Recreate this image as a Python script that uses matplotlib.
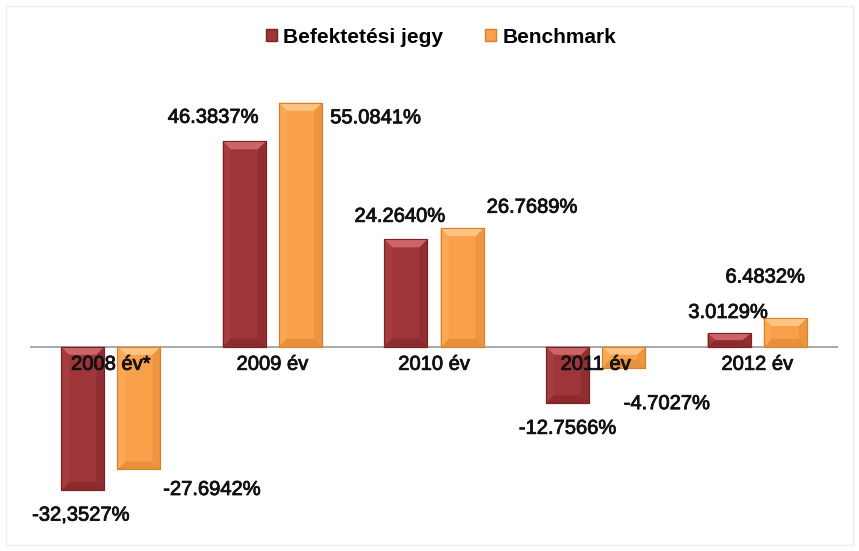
import matplotlib
matplotlib.use("Agg")
import matplotlib.pyplot as plt
from matplotlib.patches import Polygon, Rectangle
import matplotlib.patheffects as pe
import numpy as np

categories = ["2008 év*", "2009 év", "2010 év", "2011 év", "2012 év"]
series_names = ["Befektetési jegy", "Benchmark"]
befektetesi = [-32.3527, 46.3837, 24.2640, -12.7566, 3.0129]
benchmark = [-27.6942, 55.0841, 26.7689, -4.7027, 6.4832]
labels_bef = ["-32,3527%", "46.3837%", "24.2640%", "-12.7566%", "3.0129%"]
labels_ben = ["-27.6942%", "55.0841%", "26.7689%", "-4.7027%", "6.4832%"]

# label offsets in pixels (dx right, dy down) relative to bar end
off_bef = [(-2, 25), (-31, -24), (-6, -23), (0, 25), (-1, -21)]
off_ben = [(73, 20), (75, 15), (70, -21), (43, 36), (-20, -41)]

W, H = 859, 551
fig = plt.figure(figsize=(W / 100, H / 100), dpi=100)
fig.patch.set_facecolor("white")
ax = fig.add_axes([30 / W, 1 - 524 / H, 808 / W, (524 - 81) / H])
ax.set_xlim(-0.5, 4.5)
ax.set_ylim(-40, 60)
ax.axis("off")

x = np.arange(len(categories))
bw = 0.266
shift = 0.174
# main, top facet, edge/dark, side
cols = [("#9E3538", "#CD6466", "#7A2326", "#A53C3F"),
        ("#F9A04A", "#FDC482", "#D7812F", "#FAA853")]

bars1 = ax.bar(x - shift, befektetesi, bw, color=cols[0][0], edgecolor=cols[0][2], linewidth=0.8, zorder=2)
bars2 = ax.bar(x + shift, benchmark, bw, color=cols[1][0], edgecolor=cols[1][2], linewidth=0.8, zorder=2)

ax.axhline(0, color="#9a9a9a", lw=1.2, zorder=1)

# bevel decoration
fig.canvas.draw()
inv = ax.transData.inverted()
def px2data(dxp, dyp):
    p0 = inv.transform((0, 0))
    p1 = inv.transform((dxp, dyp))
    return p1[0] - p0[0], p1[1] - p0[1]
bx, by = px2data(8, 8)

def bevel(bar, c):
    x0 = bar.get_x(); w = bar.get_width()
    y0 = bar.get_y(); h = bar.get_height()
    x1 = x0 + w
    ylo, yhi = min(y0, y0 + h), max(y0, y0 + h)
    b = min(by, (yhi - ylo) / 2)
    bxx = min(bx, w / 2)
    # left facet
    ax.add_patch(Polygon([(x0, ylo), (x0, yhi), (x0 + bxx, yhi - b), (x0 + bxx, ylo + b)],
                         closed=True, fc=c[3], ec="none", zorder=3))
    # right facet
    ax.add_patch(Polygon([(x1, ylo), (x1, yhi), (x1 - bxx, yhi - b), (x1 - bxx, ylo + b)],
                         closed=True, fc=c[2], ec="none", zorder=3, alpha=0.35))
    # bottom facet
    ax.add_patch(Polygon([(x0, ylo), (x1, ylo), (x1 - bxx, ylo + b), (x0 + bxx, ylo + b)],
                         closed=True, fc=c[2], ec="none", zorder=3, alpha=0.5))
    # top facet
    ax.add_patch(Polygon([(x0, yhi), (x1, yhi), (x1 - bxx, yhi - b), (x0 + bxx, yhi - b)],
                         closed=True, fc=c[1], ec="none", zorder=3))
    ax.add_patch(Rectangle((x0, ylo), w, yhi - ylo, fc="none", ec=c[2], lw=0.8, zorder=4))

for b in bars1:
    bevel(b, cols[0])
for b in bars2:
    bevel(b, cols[1])

font = "Liberation Sans"
stroke = [pe.withStroke(linewidth=0.6, foreground="#111111")]
for i in range(len(categories)):
    ax.annotate(categories[i], (x[i], 0), xytext=(0, -8), textcoords="offset pixels",
                ha="center", va="top", fontsize=14.5, family=font, color="#111111",
                zorder=6, path_effects=stroke)
    for vals, labs, offs, sh in ((befektetesi, labels_bef, off_bef, -shift),
                                 (benchmark, labels_ben, off_ben, shift)):
        ax.annotate(labs[i], (x[i] + sh, vals[i]), xytext=(offs[i][0], -offs[i][1]),
                    textcoords="offset pixels", ha="center", va="center",
                    fontsize=14.5, family=font, color="#111111", zorder=6,
                    path_effects=stroke)

# legend
handles = [Rectangle((0, 0), 1, 1, fc=cols[0][0], ec=cols[0][2]),
           Rectangle((0, 0), 1, 1, fc=cols[1][0], ec=cols[1][2])]
leg = fig.legend(handles, series_names, loc="center", bbox_to_anchor=(441 / W, 1 - 37 / H),
                 ncol=2, frameon=False, handlelength=0.55, handleheight=0.55,
                 handletextpad=0.3, columnspacing=2.0,
                 prop={"family": font, "weight": "bold", "size": 15})

# faint frame
fig.add_artist(Rectangle((6 / W, 6 / H), (W - 12) / W, (H - 12) / H, transform=fig.transFigure,
                         fc="none", ec="#eeeeee", lw=1.0))

fig.savefig("out.png", dpi=100, facecolor="white")
